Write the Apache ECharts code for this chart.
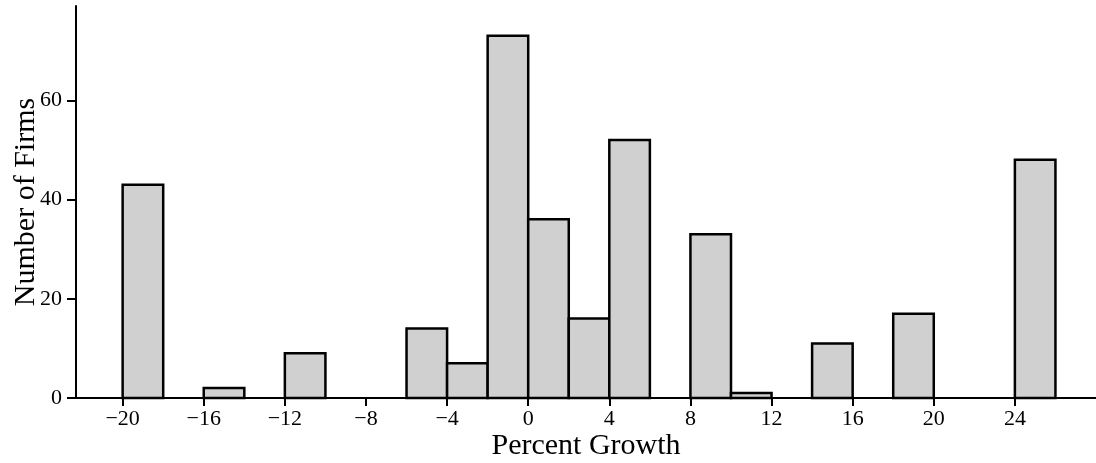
<!DOCTYPE html>
<html>
<head>
<meta charset="utf-8">
<script src="https://cdn.jsdelivr.net/npm/echarts@6/dist/echarts.min.js"></script>
<style>
html,body{margin:0;padding:0;background:#fff;}
#chart{width:1096px;height:463px;}
</style>
</head>
<body>
<div id="chart"></div>
<script>
// Bin starts (percent growth), bin width 2
var binStarts = [-20,-18,-16,-14,-12,-10,-8,-6,-4,-2,0,2,4,6,8,10,12,14,16,18,20,22,24];
var counts    = [43,0,2,0,9,0,0,14,7,73,36,16,52,0,33,1,0,11,0,17,0,0,48];
var binWidth = 2;
var xTicks = [-20,-16,-12,-8,-4,0,4,8,12,16,20,24];
var yTicks = [0,20,40,60];

var data = [];
for (var i = 0; i < binStarts.length; i++) {
  if (counts[i] > 0) data.push([binStarts[i], binStarts[i] + binWidth, counts[i]]);
}

var font = 'Liberation Serif';
var chart = echarts.init(document.getElementById('chart'), null, {renderer: 'canvas'});
chart.setOption({
  animation: false,
  backgroundColor: '#fff',
  grid: {left: 76, right: 0, top: 6, bottom: 65, containLabel: false, outerBoundsMode: 'none'},
  xAxis: {
    type: 'value',
    min: -22.3,
    max: 28,
    name: 'Percent Growth',
    nameLocation: 'middle',
    nameGap: 33,
    nameMoveOverlap: false,
    nameTextStyle: {fontFamily: font, fontSize: 30, color: '#000'},
    axisLine: {show: true, onZero: false, lineStyle: {color: '#000', width: 2}},
    axisTick: {show: true, inside: false, length: 8, lineStyle: {color: '#000', width: 2}, customValues: xTicks},
    axisLabel: {show: true, margin: 10, fontFamily: font, fontSize: 22, color: '#000', customValues: xTicks,
      formatter: function (v) { return String(v).replace('-', '\u2212'); }},
    splitLine: {show: false}
  },
  yAxis: {
    type: 'value',
    min: 0,
    max: 79,
    name: 'Number of Firms',
    nameLocation: 'middle',
    nameGap: 35,
    nameMoveOverlap: false,
    nameTextStyle: {fontFamily: font, fontSize: 30, color: '#000'},
    axisLine: {show: true, onZero: false, lineStyle: {color: '#000', width: 2}},
    axisTick: {show: true, length: 9, lineStyle: {color: '#000', width: 2}, customValues: yTicks},
    axisLabel: {show: true, margin: 14, fontFamily: font, fontSize: 22, color: '#000', customValues: yTicks},
    splitLine: {show: false}
  },
  series: [{
    type: 'custom',
    data: data,
    encode: {x: [0, 1], y: 2},
    renderItem: function (params, api) {
      var p0 = api.coord([api.value(0), 0]);
      var p1 = api.coord([api.value(1), api.value(2)]);
      return {
        type: 'rect',
        shape: {x: p0[0], y: p1[1], width: p1[0] - p0[0], height: p0[1] - p1[1]},
        style: {fill: '#d0d0d0', stroke: '#000', lineWidth: 2.5}
      };
    }
  }]
});
</script>
</body>
</html>
